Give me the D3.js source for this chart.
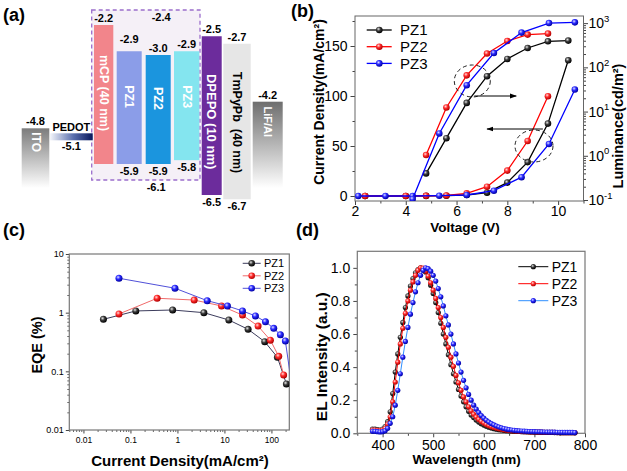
<!DOCTYPE html>
<html><head><meta charset="utf-8">
<script src="https://cdn.jsdelivr.net/npm/d3@7"></script>
<style>body{margin:0;background:#fff}svg{display:block}text{font-family:Arial,"Liberation Sans",sans-serif}</style>
</head><body><svg id="c" width="627" height="471"></svg>
<script>
// ---------- Panel (a): energy levels (eV) ----------
const layerNames = ["ITO","PEDOT","mCP (40 nm)","PZ1","PZ2","PZ3","DPEPO (10 nm)","TmPyPb  (40 nm)","LiF/Al"];
const layerTop = [-4.8, -5.1, -2.2, -2.9, -3.0, -2.9, -2.5, -2.7, -4.2];
const layerBottom = [null, null, -5.9, -5.9, -5.9, -5.8, -6.5, -6.7, null];
const bottomLabelShown = [false, false, false, true, true, true, true, true, false];
const hostLevels = [-2.4, -6.1];

// ---------- Panel (b): J-V-L ----------
const voltPZ1 = [2.4, 4.0, 4.8, 5.6, 6.4, 7.2, 8.0, 8.8, 9.6, 10.4];
const jPZ1 = [0, 0, 0.1, 0.3, 1.0, 3.3, 13.4, 33.9, 72.4, 135.7];
const lumVoltPZ1 = [4.8, 5.6, 6.4, 7.2, 8.0, 8.8, 9.6, 10.4];
const lumPZ1 = [0.40, 2.5, 15.7, 63, 155, 274, 388, 403];
const voltPZ2 = [2.4, 4.0, 4.8, 5.6, 6.4, 7.2, 8.0, 8.8, 9.6];
const jPZ2 = [0, 0, 0.2, 0.5, 2.7, 9.3, 25.4, 55.0, 99.8];
const lumVoltPZ2 = [4.8, 5.6, 6.4, 7.2, 8.0, 8.8, 9.6];
const lumPZ2 = [1.04, 12.4, 66, 205, 394, 550, 580];
const voltPZ3 = [2.13, 3.2, 4.27, 5.32, 6.4, 7.47, 8.56, 9.64, 10.66];
const jPZ3 = [0, 0, 0, 0.3, 1.0, 5.3, 18.8, 52.0, 106.5];
const lumVoltPZ3 = [4.27, 5.32, 6.4, 7.47, 8.56, 9.64, 10.66];
const lumPZ3 = [0.105, 3.2, 39.5, 211, 611, 1004, 1042];
const voltTicks = [2, 4, 6, 8, 10];
const jTicks = [0, 50, 100, 150];
const lumTicks = [0.1, 1, 10, 100, 1000];

// ---------- Panel (c): EQE ----------
const eqeJPZ1 = [0.0266, 0.13, 0.79, 3.65, 12.4, 31.9, 72, 134, 208];
const eqePZ1 = [0.77, 1.07, 1.11, 1.0, 0.75, 0.52, 0.32, 0.174, 0.061];
const eqeJPZ2 = [0.057, 0.37, 2.27, 8.67, 24.2, 52, 95, 143, 182];
const eqePZ2 = [0.95, 1.76, 1.64, 1.30, 0.91, 0.59, 0.34, 0.18, 0.087];
const eqeJPZ3 = [0.057, 0.885, 4.3, 11.6, 24.2, 45.7, 74.6, 112, 155, 198, 255];
const eqePZ3 = [3.86, 2.61, 1.60, 1.30, 1.07, 0.88, 0.70, 0.54, 0.42, 0.33, 0.08];
const eqeXTicks = [0.01, 0.1, 1, 10, 100];
const eqeXLabels = ["0.01", "0.1", "1", "10", "100"];
const eqeYTicks = [0.01, 0.1, 1, 10];
const eqeYLabels = ["0.01", "0.1", "1", "10"];

// ---------- Panel (d): EL spectra ----------
const wavelength = [380,385,390,395,400,405,410,415,420,425,430,435,440,445,450,455,460,465,470,475,
  480,485,490,495,500,505,510,515,520,525,530,535,540,545,550,555,560,565,570,575,
  580,585,590,595,600,605,610,615,620,625,630,635,640,645,650,655,660,665,670,675,
  680,685,690,695,700,705,710,715,720,725,730,735,740,745,750,755,760,765,770,775,780];
const elPZ1 = [0.025,0.025,0.022,0.02,0.025,0.04,0.07,0.13,0.24,0.37,
  0.48,0.58,0.67,0.76,0.83,0.89,0.935,0.97,0.99,1.0,
  0.995,0.975,0.94,0.895,0.845,0.79,0.73,0.665,0.60,0.54,
  0.475,0.415,0.36,0.31,0.265,0.225,0.19,0.16,0.133,0.11,
  0.095,0.08,0.068,0.058,0.05,0.043,0.037,0.032,0.028,0.025,
  0.022,0.02,0.018,0.016,0.015,0.014,0.013,0.012,0.011,0.01,
  0.0095,0.009,0.0085,0.008,0.0075,0.007,0.0065,0.006,0.006,0.0055,
  0.005,0.005,0.0045,0.0045,0.004,0.004,0.004,0.0035,0.0035,0.0035,0.003];
const elPZ2 = [0.02,0.02,0.018,0.017,0.02,0.03,0.055,0.10,0.19,0.31,
  0.43,0.54,0.635,0.725,0.80,0.865,0.915,0.955,0.985,1.0,
  0.998,0.98,0.95,0.91,0.865,0.815,0.76,0.70,0.64,0.58,
  0.52,0.46,0.405,0.35,0.305,0.26,0.22,0.19,0.16,0.135,
  0.115,0.098,0.084,0.072,0.062,0.053,0.046,0.04,0.035,0.031,
  0.027,0.024,0.021,0.019,0.017,0.015,0.014,0.013,0.012,0.011,
  0.01,0.0095,0.009,0.0085,0.008,0.0075,0.007,0.0065,0.006,0.006,
  0.0055,0.005,0.005,0.0045,0.0045,0.004,0.004,0.004,0.0035,0.0035,0.0035];
const elPZ3 = [0.012,0.012,0.01,0.008,0.01,0.015,0.03,0.06,0.10,0.17,
  0.26,0.36,0.46,0.555,0.64,0.72,0.79,0.855,0.91,0.955,
  0.985,1.0,0.995,0.98,0.955,0.92,0.875,0.825,0.77,0.71,
  0.655,0.60,0.54,0.48,0.425,0.37,0.32,0.275,0.235,0.2,
  0.17,0.146,0.125,0.107,0.092,0.079,0.068,0.059,0.051,0.044,
  0.038,0.033,0.029,0.025,0.022,0.02,0.018,0.016,0.015,0.014,
  0.013,0.012,0.011,0.0105,0.01,0.0095,0.009,0.0085,0.008,0.0075,
  0.007,0.007,0.0065,0.006,0.006,0.0055,0.0055,0.005,0.005,0.005,0.0045];
const wlTicks = [400, 500, 600, 700, 800];
const elTicks = [0, 0.2, 0.4, 0.6, 0.8, 1.0];
const seriesNames = ["PZ1", "PZ2", "PZ3"];

// =====================================================
const svg = d3.select("#c");
svg.append("rect").attr("width", 627).attr("height", 471).attr("fill", "#fff");
const defs = svg.append("defs");
function sphere(id, light, mid, dark) {
  const g = defs.append("radialGradient").attr("id", id).attr("cx", "38%").attr("cy", "35%").attr("r", "65%");
  g.append("stop").attr("offset", "0%").attr("stop-color", light);
  g.append("stop").attr("offset", "45%").attr("stop-color", mid);
  g.append("stop").attr("offset", "100%").attr("stop-color", dark);
}
sphere("sk", "#e6e6e6", "#3a3a3a", "#000");
sphere("sr", "#ffdede", "#ff2a2a", "#b00000");
sphere("sb", "#dedeff", "#2a2aff", "#0000a0");
const gradIds = ["sk", "sr", "sb"];

function vgrad(id, top, bottom) {
  const g = defs.append("linearGradient").attr("id", id).attr("x1", 0).attr("y1", 0).attr("x2", 0).attr("y2", 1);
  g.append("stop").attr("offset", "0%").attr("stop-color", top);
  g.append("stop").attr("offset", "100%").attr("stop-color", bottom);
}
vgrad("gITO", "#7c7c7c", "#ffffff");
vgrad("gLiF", "#6e6e6e", "#ffffff");
const hp = defs.append("linearGradient").attr("id", "gPED").attr("x1", 0).attr("y1", 0).attr("x2", 1).attr("y2", 0);
hp.append("stop").attr("offset", "0%").attr("stop-color", "#f4f6fb");
hp.append("stop").attr("offset", "55%").attr("stop-color", "#5a6fae");
hp.append("stop").attr("offset", "100%").attr("stop-color", "#08185c");

defs.append("marker").attr("id", "arr").attr("viewBox", "0 0 10 10").attr("refX", 9).attr("refY", 5)
  .attr("markerWidth", 7).attr("markerHeight", 7).attr("orient", "auto-start-reverse").attr("markerUnits", "userSpaceOnUse")
  .append("path").attr("d", "M0,1.5 L10,5 L0,8.5 Z").attr("fill", "#000");

function txt(g, x, y, s, size, opts = {}) {
  const t = g.append("text").attr("x", x).attr("y", y).attr("font-size", size).text(s)
    .attr("text-anchor", opts.anchor || "start").attr("font-weight", opts.bold ? "bold" : "normal")
    .attr("fill", opts.fill || "#000");
  if (opts.rotate !== undefined) t.attr("transform", `rotate(${opts.rotate},${x},${y})`);
  if (opts.baseline) t.attr("dominant-baseline", opts.baseline);
  return t;
}

// ============ Panel (a) ============
const gA = svg.append("g");
const eY = d3.scaleLinear().domain([-2.2, -3.0, -4.2, -4.8, -5.1, -5.9, -6.5, -6.7])
  .range([25, 55, 101.7, 128.3, 133.3, 164, 195, 199.3]);
const layerWidthU = [27.6, 42.7, 19.3, 25, 25, 25.3, 20, 27.4, 30];
const gapU = [0, 0.7, 1.3, 3.4, 4, 3.3, 2.4, 1.6, 2];
let acc = 0; const startU = [];
layerWidthU.forEach((w, i) => { acc += gapU[i]; startU.push(acc); acc += w; });
const slot = d3.scaleLinear().domain([0, acc]).range([21.7, 282.7]);
const layerFill = ["url(#gITO)", "url(#gPED)", "#f2858b", "#8b9de8", "#1b95de", "#84e5ef", "#6c2c9c", "#e6e6e6", "url(#gLiF)"];
const layerTextFill = ["#fff", null, "#fff", "#fff", "#fff", "#fff", "#fff", "#000", "#fff"];
const layerTextSize = [12, 0, 12.5, 12.5, 12.5, 12.5, 13, 12.5, 11];
const layerTextDy = [-16, 0, -1.5, -11, -11, -9, 6, 1, -23];
const fadeBottom = 188;
const x0 = i => slot(startU[i]), x1 = i => slot(startU[i] + layerWidthU[i]);

const boxL = x0(2) - 2.3, boxR = x1(5) + 0.7, boxT = eY(-2.2) - 15, boxB = eY(-5.9) + 16;
gA.append("rect").attr("x", boxL).attr("y", boxT).attr("width", boxR - boxL).attr("height", boxB - boxT)
  .attr("fill", "#f5f0f7").attr("stroke", "#9b6dcc").attr("stroke-width", 1.3).attr("stroke-dasharray", "4,3");

layerNames.forEach((name, i) => {
  const xa = x0(i), xb = x1(i), cx = (xa + xb) / 2;
  const top = eY(layerTop[i]);
  let bottom;
  if (name === "PEDOT") bottom = top + 7;
  else if (layerBottom[i] === null) bottom = fadeBottom;
  else bottom = eY(layerBottom[i]);
  gA.append("rect").attr("x", xa).attr("y", top).attr("width", xb - xa).attr("height", bottom - top).attr("fill", layerFill[i]);
  if (name === "PEDOT") {
    txt(gA, cx, top - 2, "PEDOT", 11, { anchor: "middle", bold: true });
    txt(gA, cx, bottom + 10, layerTop[i].toFixed(1), 11, { anchor: "middle", bold: true });
    return;
  }
  const lift = name === "PZ1" ? 8 : 3;
  txt(gA, cx, top - lift, layerTop[i].toFixed(1), 11, { anchor: "middle", bold: true });
  if (bottomLabelShown[i]) txt(gA, cx, bottom + 11, layerBottom[i].toFixed(1), 11, { anchor: "middle", bold: true });
  const cy = (top + bottom) / 2 + layerTextDy[i];
  txt(gA, cx, cy, name, layerTextSize[i], { anchor: "middle", bold: true, fill: layerTextFill[i], rotate: 90, baseline: "central" })
    .style("white-space", "pre");
});
const pz2c = (x0(4) + x1(4)) / 2;
txt(gA, pz2c + 3, eY(-2.2) - 4, hostLevels[0].toFixed(1), 11, { anchor: "middle", bold: true });
txt(gA, pz2c - 2, boxB + 11, hostLevels[1].toFixed(1), 11, { anchor: "middle", bold: true });
txt(svg, 3, 21, "(a)", 18, { bold: true });

// ---------- helpers ----------
function styleAxis(g, color, size) {
  g.select(".domain").remove();
  g.selectAll(".tick line").attr("stroke", color).attr("stroke-width", 1);
  g.selectAll(".tick text").attr("font-size", size).attr("fill", "#000").attr("font-family", 'Arial,"Liberation Sans",sans-serif');
}
function logMinor(dom) {
  const out = [];
  for (let e = Math.floor(Math.log10(dom[0])); e <= Math.ceil(Math.log10(dom[1])); e++)
    for (let k = 2; k <= 9; k++) { const v = k * Math.pow(10, e); if (v >= dom[0] && v <= dom[1]) out.push(v); }
  return out;
}
function drawSeries(g, data, sx, sy, color, grad, r, lw, clipId, keep) {
  const p = g.append("g");
  if (clipId) p.attr("clip-path", `url(#${clipId})`);
  p.append("path").datum(data).attr("fill", "none").attr("stroke", color).attr("stroke-width", lw)
    .attr("d", d3.line().x(d => sx(d[0])).y(d => sy(d[1])));
  p.selectAll(null).data(keep ? data.filter(keep) : data).join("circle")
    .attr("cx", d => sx(d[0])).attr("cy", d => sy(d[1])).attr("r", r).attr("fill", `url(#${grad})`);
}
function clip(id, x, y, w, h) {
  defs.append("clipPath").attr("id", id).append("rect").attr("x", x).attr("y", y).attr("width", w).attr("height", h);
}
const zip = (a, b) => a.map((v, i) => [v, b[i]]);

// ============ Panel (b) ============
const gB = svg.append("g");
const xB = d3.scaleLinear().domain([2, 11]).range([355, 583.5]);
const yJ = d3.scaleLinear().domain([-5, 180]).range([201, 16]);
const yLum = d3.scaleLog().domain([0.095, 1450]).range([201, 16]);
const [bL, bR] = xB.range(), [bB, bT] = yJ.range();
clip("clipB", bL, bT, bR - bL, bB - bT);
const axB = "#444";
let a;
a = gB.append("g").attr("transform", `translate(0,${bB})`).call(d3.axisBottom(xB).tickValues(voltTicks).tickSize(4).tickPadding(1).tickFormat(d3.format("d")));
styleAxis(a, axB, 14);
a = gB.append("g").attr("transform", `translate(0,${bB})`).call(d3.axisBottom(xB).tickValues([3, 5, 7, 9, 11]).tickSize(2.5).tickFormat(""));
styleAxis(a, axB, 14);
a = gB.append("g").attr("transform", `translate(${bL},0)`).call(d3.axisLeft(yJ).tickValues(jTicks).tickSize(4.5).tickPadding(3));
styleAxis(a, axB, 14);
a = gB.append("g").attr("transform", `translate(${bL},0)`).call(d3.axisLeft(yJ).tickValues([25, 75, 125, 175]).tickSize(2.5).tickFormat(""));
styleAxis(a, axB, 14);
a = gB.append("g").attr("transform", `translate(${bR},0)`).call(d3.axisRight(yLum).tickValues(lumTicks).tickSize(4.5).tickFormat(""));
styleAxis(a, axB, 14);
a = gB.append("g").attr("transform", `translate(${bR},0)`).call(d3.axisRight(yLum).tickValues(logMinor(yLum.domain())).tickSize(2.5).tickFormat(""));
styleAxis(a, axB, 14);
lumTicks.forEach(v => {
  const t = gB.append("text").attr("x", bR + 5).attr("y", yLum(v) + 5).attr("font-size", 14);
  t.append("tspan").text("10");
  t.append("tspan").attr("dy", -6.5).attr("font-size", 9.5).text(String(Math.round(Math.log10(v))));
});
gB.append("rect").attr("x", bL).attr("y", bT).attr("width", bR - bL).attr("height", bB - bT).attr("fill", "none").attr("stroke", "#666").attr("stroke-width", 1);

const bColors = ["#000000", "#ff0000", "#0000ff"];
const bV = [voltPZ1, voltPZ2, voltPZ3], bJ = [jPZ1, jPZ2, jPZ3];
const bLV = [lumVoltPZ1, lumVoltPZ2, lumVoltPZ3], bLum = [lumPZ1, lumPZ2, lumPZ3];
for (let s = 0; s < 3; s++) {
  drawSeries(gB, zip(bV[s], bJ[s]), xB, yJ, bColors[s], gradIds[s], 3.3, 1.3, "clipB");
  drawSeries(gB, zip(bLV[s], bLum[s]), xB, yLum, bColors[s], gradIds[s], 3.3, 1.3, "clipB");
}
gB.append("ellipse").attr("cx", xB(6.62)).attr("cy", yJ(115)).attr("rx", 18).attr("ry", 16)
  .attr("fill", "none").attr("stroke", "#222").attr("stroke-width", 1).attr("stroke-dasharray", "4,3");
gB.append("line").attr("x1", xB(6.7)).attr("y1", yJ(100)).attr("x2", xB(8.35)).attr("y2", yJ(100))
  .attr("stroke", "#000").attr("stroke-width", 1).attr("marker-end", "url(#arr)");
gB.append("ellipse").attr("cx", xB(9.05)).attr("cy", yJ(50)).attr("rx", 19).attr("ry", 16)
  .attr("fill", "none").attr("stroke", "#222").attr("stroke-width", 1).attr("stroke-dasharray", "4,3");
gB.append("line").attr("x1", xB(9.4)).attr("y1", yJ(67)).attr("x2", xB(7.2)).attr("y2", yJ(67))
  .attr("stroke", "#000").attr("stroke-width", 1).attr("marker-end", "url(#arr)");
seriesNames.forEach((n, i) => {
  const y = 30 + i * 16.7;
  gB.append("line").attr("x1", 366.7).attr("x2", 391.7).attr("y1", y).attr("y2", y).attr("stroke", bColors[i]).attr("stroke-width", 1.3);
  gB.append("circle").attr("cx", 379.3).attr("cy", y).attr("r", 3.3).attr("fill", `url(#${gradIds[i]})`);
  txt(gB, 400, y + 5.3, n, 15);
});
txt(gB, 465, 231.5, "Voltage (V)", 13.5, { anchor: "middle", bold: true });
txt(gB, 324, 102, "Current Density(mA/cm²)", 14, { anchor: "middle", bold: true, rotate: -90 });
txt(gB, 623, 126, "Luminance(cd/m²)", 14.5, { anchor: "middle", bold: true, rotate: -90 });
txt(svg, 291, 17, "(b)", 18, { bold: true });

// ============ Panel (c) ============
const gC = svg.append("g");
const xC = d3.scaleLog().domain([0.005, 240]).range([69.3, 289.3]);
const yC = d3.scaleLog().domain([0.01, 10]).range([430, 254]);
const [cL, cR] = xC.range(), [cB, cT] = yC.range();
clip("clipC", cL, cT, cR - cL, cB - cT);
a = gC.append("g").attr("transform", `translate(0,${cB})`).call(d3.axisBottom(xC).tickValues(eqeXTicks).tickSize(3.5).tickPadding(3).tickFormat((d, i) => eqeXLabels[i]));
styleAxis(a, "#444", 8.5);
a = gC.append("g").attr("transform", `translate(0,${cB})`).call(d3.axisBottom(xC).tickValues(logMinor(xC.domain())).tickSize(2).tickFormat(""));
styleAxis(a, "#666", 8.5);
a = gC.append("g").attr("transform", `translate(${cL},0)`).call(d3.axisLeft(yC).tickValues(eqeYTicks).tickSize(3.5).tickPadding(2).tickFormat((d, i) => eqeYLabels[i]));
styleAxis(a, "#444", 9);
a = gC.append("g").attr("transform", `translate(${cL},0)`).call(d3.axisLeft(yC).tickValues(logMinor(yC.domain())).tickSize(2).tickFormat(""));
styleAxis(a, "#666", 9);
gC.append("rect").attr("x", cL).attr("y", cT).attr("width", cR - cL).attr("height", cB - cT).attr("fill", "none").attr("stroke", "#777").attr("stroke-width", 1.2);
const cColors = ["#3c3c5c", "#f06a6a", "#5050d8"];
const cJ = [eqeJPZ1, eqeJPZ2, eqeJPZ3], cE = [eqePZ1, eqePZ2, eqePZ3];
const inC = d => d[0] >= xC.domain()[0] && d[0] <= xC.domain()[1];
for (let s = 0; s < 3; s++) drawSeries(gC, zip(cJ[s], cE[s]), xC, yC, cColors[s], gradIds[s], 3.5, 1, "clipC", inC);
seriesNames.forEach((n, i) => {
  const y = 263.3 + i * 12.5;
  gC.append("line").attr("x1", 242.7).attr("x2", 260.7).attr("y1", y).attr("y2", y).attr("stroke", cColors[i]).attr("stroke-width", 1);
  gC.append("circle").attr("cx", 251.7).attr("cy", y).attr("r", 3.3).attr("fill", `url(#${gradIds[i]})`);
  txt(gC, 264, y + 4, n, 11);
});
txt(gC, 180, 466, "Current Density(mA/cm²)", 15, { anchor: "middle", bold: true });
txt(gC, 41.5, 345, "EQE (%)", 14.5, { anchor: "middle", bold: true, rotate: -90 });
txt(svg, 3, 236, "(c)", 18, { bold: true });

// ============ Panel (d) ============
const gD = svg.append("g");
const xD = d3.scaleLinear().domain([350, 800]).range([357.3, 585]);
const yD = d3.scaleLinear().domain([0, 1.1]).range([433.3, 251.3]);
const [dL, dR] = xD.range(), [dB, dT] = yD.range();
a = gD.append("g").attr("transform", `translate(0,${dB})`).call(d3.axisBottom(xD).tickValues(wlTicks).tickSize(4).tickPadding(3).tickFormat(d3.format("d")));
styleAxis(a, "#444", 14);
a = gD.append("g").attr("transform", `translate(0,${dB})`).call(d3.axisBottom(xD).tickValues([350, 450, 550, 650, 750]).tickSize(2.5).tickFormat(""));
styleAxis(a, "#444", 14);
a = gD.append("g").attr("transform", `translate(${dL},0)`).call(d3.axisLeft(yD).tickValues(elTicks).tickSize(4).tickPadding(3).tickFormat(d3.format(".1f")));
styleAxis(a, "#444", 14);
a = gD.append("g").attr("transform", `translate(${dL},0)`).call(d3.axisLeft(yD).tickValues([0.1, 0.3, 0.5, 0.7, 0.9]).tickSize(2.5).tickFormat(""));
styleAxis(a, "#444", 14);
gD.append("rect").attr("x", dL).attr("y", dT).attr("width", dR - dL).attr("height", dB - dT).attr("fill", "none").attr("stroke", "#777").attr("stroke-width", 1.2);
const dColors = ["#000000", "#ff0000", "#2f8fff"];
const dY = [elPZ1, elPZ2, elPZ3];
for (let s = 0; s < 3; s++) drawSeries(gD, zip(wavelength, dY[s]), xD, yD, dColors[s], gradIds[s], 2.6, 1);
seriesNames.forEach((n, i) => {
  const y = 266.7 + i * 17;
  gD.append("line").attr("x1", 518.3).attr("x2", 548.3).attr("y1", y).attr("y2", y).attr("stroke", dColors[i]).attr("stroke-width", 1);
  gD.append("circle").attr("cx", 533.3).attr("cy", y).attr("r", 2.6).attr("fill", `url(#${gradIds[i]})`);
  txt(gD, 551.7, y + 5, n, 14);
});
txt(gD, 466.7, 464, "Wavelength (nm)", 13.5, { anchor: "middle", bold: true });
txt(gD, 327, 356.7, "EL Intensity (a.u.)", 15.5, { anchor: "middle", bold: true, rotate: -90 });
txt(svg, 296, 236, "(d)", 18, { bold: true });
</script></body></html>
